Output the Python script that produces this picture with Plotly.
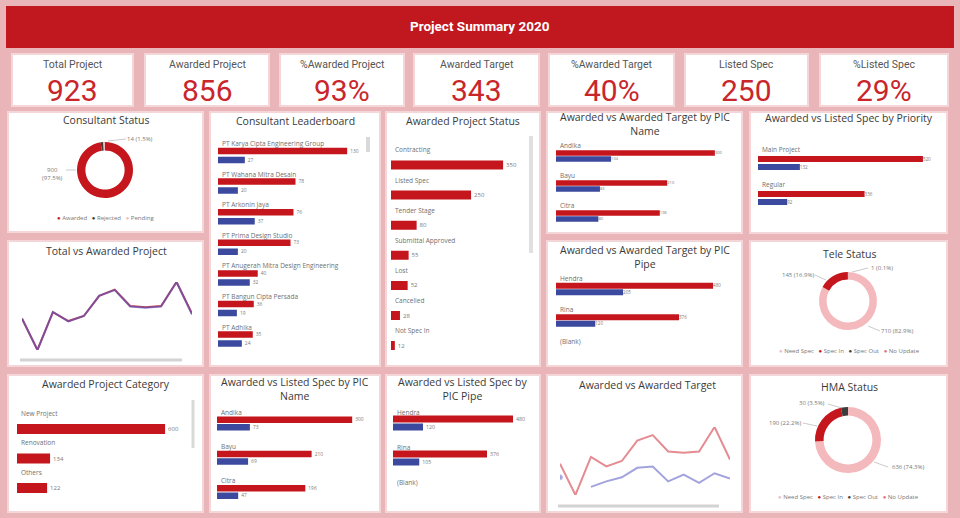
import plotly.graph_objects as go

W, H = 960, 518

# ---------------- data ----------------
kpi_titles = ["Total Project", "Awarded Project", "%Awarded Project", "Awarded Target",
              "%Awarded Target", "Listed Spec", "%Listed Spec"]
kpi_values = ["923", "856", "93%", "343", "40%", "250", "29%"]

months = ["Jan", "Feb", "Mar", "Apr", "May", "Jun", "Jul", "Aug", "Sep", "Oct", "Nov", "Dec"]
total_project = [70, 45, 75, 68, 72, 88, 93, 80, 79, 80, 99, 74]
awarded_project = [65, 42, 70, 63, 67, 82, 86, 74, 73, 74, 92, 68]
awarded_target = [55, None, 48, 52, 55, 62, 63, 52, 57, 51, 58, 54]

consultant_status_labels = ["Awarded", "Rejected", "Pending"]
consultant_status_values = [900, 14, 9]

leader_names = ["PT Karya Cipta Engineering Group", "PT Wahana Mitra Desain", "PT Arkonin Jaya",
                "PT Prima Design Studio", "PT Anugerah Mitra Design Engineering",
                "PT Bangun Cipta Persada", "PT Adhika"]
leader_awarded = [130, 78, 76, 73, 40, 36, 35]
leader_listed = [27, 20, 37, 20, 32, 19, 24]

status_names = ["Contracting", "Listed Spec", "Tender Stage", "Submittal Approved",
                "Lost", "Cancelled", "Not Spec In"]
status_values = [350, 250, 80, 55, 52, 28, 12]

pic_names = ["Andika", "Bayu", "Citra"]
pic_awarded = [300, 210, 196]
pic_target = [104, 83, 80]
pic_listed = [73, 69, 47]

priority_names = ["Main Project", "Regular"]
priority_awarded = [520, 336]
priority_listed = [132, 92]

pipe_names = ["Hendra", "Rina", "(Blank)"]
pipe_awarded = [480, 376, 0]
pipe_target = [205, 120, 0]
pipe_listed = [120, 105, 0]

category_names = ["New Project", "Renovation", "Others"]
category_values = [600, 134, 122]

spec_labels = ["Need Spec", "Spec In", "Spec Out", "No Update"]
tele_values = [710, 145, 1, 0]
hma_values = [636, 190, 30, 0]

# ---------------- style ----------------
RED = "#c4161c"
BLUE = "#3b4a9e"
PINK_BG = "#eab5b9"
PANEL_LINE = "#f5d6d8"
TXT = "#3a3a3a"
SUB = "#7a7a7a"
FONT = "Open Sans, Noto Sans, sans-serif"
KFONT = "Roboto, Noto Sans, sans-serif"
DONUT3 = ["#c4161c", "#3c3c3c", "#f4b9bc"]
DONUT4 = ["#f4b9bc", "#c4161c", "#3c3c3c", "#e2717a"]


def fx(x):
    return x / W


def fy(y):
    return 1 - y / H


def xdom(a, b):
    return [fx(a), fx(b)]


def ydom(top, bottom):
    return [fy(bottom), fy(top)]


fig = go.Figure()
shapes = []
annotations = []
axes = {}


def rect(x0, y0, x1, y1, fill, line_color=None, lw=0):
    shapes.append(dict(type="rect", xref="paper", yref="paper", x0=fx(x0), x1=fx(x1),
                       y0=fy(y1), y1=fy(y0), fillcolor=fill,
                       line=dict(color=line_color or fill, width=lw), layer="below"))


def hline(x0, y0, x1, y1, color, width):
    shapes.append(dict(type="line", xref="paper", yref="paper", x0=fx(x0), y0=fy(y0),
                       x1=fx(x1), y1=fy(y1), line=dict(color=color, width=width), layer="above"))


def text(s, x, y, size=10.5, color=TXT, family=FONT, xanchor="center"):
    annotations.append(dict(text=s, x=fx(x), y=fy(y), xref="paper", yref="paper",
                            showarrow=False, xanchor=xanchor, yanchor="middle",
                            font=dict(size=size, color=color, family=family)))


def axname(kind, n):
    return f"{kind}axis" if n == 1 else f"{kind}axis{n}"


def axref(kind, n):
    return kind if n == 1 else f"{kind}{n}"


# ---------------- background panels ----------------
rect(6, 6, 954, 48, "#c1171f")
kpi_boxes = [(12, 133), (145, 269), (280, 404), (414, 539), (549, 674), (685, 808), (820, 948)]
for (a, b) in kpi_boxes:
    rect(a, 54, b, 106, "white", PANEL_LINE, 2)

panels = [(8, 112, 203, 232), (8, 241, 203, 366), (8, 375, 203, 512),
          (210, 112, 380, 366), (386, 112, 540, 366),
          (547, 112, 742, 233), (750, 112, 947, 233),
          (547, 241, 742, 366), (750, 241, 947, 366),
          (210, 375, 380, 512), (386, 375, 540, 512),
          (547, 375, 742, 512), (750, 375, 947, 512)]
for p in panels:
    rect(*p, "white", PANEL_LINE, 2)

# ---------------- header and KPIs ----------------
text("<b>Project Summary 2020</b>", 480, 26, size=13.5, color="white", family=KFONT)
for (a, b), t, v in zip(kpi_boxes, kpi_titles, kpi_values):
    cx = (a + b) / 2
    text(t, cx, 65, size=10.5, color="#555555", family=KFONT)
    text(v, cx, 91, size=30, color="#c9262c", family=KFONT)

# ---------------- panel titles ----------------
titles = [
    ("Consultant Status", 106, 120),
    ("Consultant Leaderboard", 295, 121),
    ("Awarded Project Status", 463, 121),
    ("Awarded vs Awarded Target by PIC<br>Name", 645, 124),
    ("Awarded vs Listed Spec by Priority", 849, 118),
    ("Total vs Awarded Project", 106, 251),
    ("Awarded vs Awarded Target by PIC<br>Pipe", 645, 257),
    ("Tele Status", 849, 254),
    ("Awarded Project Category", 106, 384),
    ("Awarded vs Listed Spec by PIC<br>Name", 295, 389),
    ("Awarded vs Listed Spec by<br>PIC Pipe", 463, 389),
    ("Awarded vs Awarded Target", 647, 385),
    ("HMA Status", 849, 387),
]
for t, x, y in titles:
    text(t, x, y, size=10.5, color=TXT)


# ---------------- bar panels ----------------
def bar_panel(n, cats, series, x_px, first_center, band, thick, sep, xmax, label_shift):
    k = len(series)
    w = thick / band
    for j, (vals, color) in enumerate(series):
        c = (j - (k - 1) / 2) * sep / band
        fig.add_trace(go.Bar(
            x=vals, y=cats, orientation="h", xaxis=axref("x", n), yaxis=axref("y", n),
            width=w, offset=c - w / 2, marker=dict(color=color, line=dict(width=0)),
            text=[str(v) if v else "" for v in vals], textposition="outside",
            textfont=dict(size=6, color=SUB, family=FONT), cliponaxis=False,
            hoverinfo="skip", showlegend=False))
    ncat = len(cats)
    top = first_center - band / 2
    bottom = top + band * ncat
    axes[axname("x", n)] = dict(domain=xdom(*x_px), range=[0, xmax], anchor=axref("y", n),
                                visible=False, fixedrange=True)
    axes[axname("y", n)] = dict(domain=ydom(top, bottom), range=[ncat - 0.5, -0.5],
                                type="category", anchor=axref("x", n), visible=False,
                                fixedrange=True)
    for cname in cats:
        annotations.append(dict(text=cname, x=0, y=cname, xref=axref("x", n), yref=axref("y", n),
                                xanchor="left", yanchor="middle", yshift=label_shift, xshift=2,
                                showarrow=False,
                                font=dict(size=6.5, color="#707070", family=FONT)))


bar_panel(1, leader_names, [(leader_awarded, RED), (leader_listed, BLUE)],
          (218, 372), 155.5, 30.6, 6.5, 9, 155, 12)
bar_panel(2, status_names, [(status_values, RED)], (391, 530), 165, 30.1, 9, 0, 434, 15)
bar_panel(3, pic_names, [(pic_awarded, RED), (pic_target, BLUE)],
          (556, 735), 156, 30, 5.5, 6, 338, 11)
bar_panel(4, priority_names, [(priority_awarded, RED), (priority_listed, BLUE)],
          (758, 935), 163, 35, 6, 8, 558, 13)
bar_panel(5, pipe_names, [(pipe_awarded, RED), (pipe_target, BLUE)],
          (556, 735), 289, 31.5, 6, 6.5, 547, 11)
bar_panel(6, pic_names, [(pic_awarded, RED), (pic_listed, BLUE)],
          (217, 372), 423.5, 34.3, 6.5, 7.5, 344, 11.5)
bar_panel(7, pipe_names, [(pipe_awarded, RED), (pipe_listed, BLUE)],
          (393, 535), 423, 35, 7, 8, 568, 11)
bar_panel(8, category_names, [(category_values, RED)], (17, 190), 429, 29.5, 10, 0, 701, 16)

# ---------------- line panels ----------------
fig.add_trace(go.Scatter(x=months, y=total_project, xaxis="x9", yaxis="y9", mode="lines",
                         line=dict(color="#c0474f", width=2), hoverinfo="skip", showlegend=False))
fig.add_trace(go.Scatter(x=months, y=awarded_project, xaxis="x9", yaxis="y10", mode="lines",
                         line=dict(color="#5b4fc4", width=2), opacity=0.6,
                         hoverinfo="skip", showlegend=False))
axes["xaxis9"] = dict(domain=xdom(22, 192), range=[0, 11], type="category", anchor="y9",
                      visible=False, fixedrange=True)
axes["yaxis9"] = dict(domain=ydom(282, 350), range=[45, 99], anchor="x9", visible=False,
                      fixedrange=True)
axes["yaxis10"] = dict(overlaying="y9", range=[42, 92], anchor="x9", visible=False,
                       fixedrange=True)

fig.add_trace(go.Scatter(x=months, y=awarded_project, xaxis="x10", yaxis="y11", mode="lines",
                         line=dict(color="#e58c92", width=2), hoverinfo="skip", showlegend=False))
fig.add_trace(go.Scatter(x=months, y=awarded_target, xaxis="x10", yaxis="y11", mode="lines+markers",
                         line=dict(color="#a3a3dd", width=2),
                         marker=dict(color="#7d7dd0", size=[5] + [0] * 11),
                         hoverinfo="skip", showlegend=False))
axes["xaxis10"] = dict(domain=xdom(560, 730), range=[0, 11], type="category", anchor="y11",
                       visible=False, fixedrange=True)
axes["yaxis11"] = dict(domain=ydom(427, 495), range=[42, 92], anchor="x10", visible=False,
                       fixedrange=True)

hline(20, 360, 182, 360, "#d3d3d3", 3)
hline(558, 506, 719, 506, "#d3d3d3", 3)
# scrollbars
hline(193, 400, 193, 448, "#d9d9d9", 3)
hline(368, 137, 368, 152, "#d9d9d9", 4)
hline(531, 136, 531, 253, "#e0e0e0", 4)


# ---------------- donuts ----------------
def donut(labels, values, colors, cx, cy, r, hole):
    fig.add_trace(go.Pie(labels=labels, values=values, hole=hole, sort=False,
                         direction="clockwise", rotation=0,
                         marker=dict(colors=colors, line=dict(width=0)),
                         domain=dict(x=xdom(cx - r, cx + r), y=ydom(cy - r, cy + r)),
                         textinfo="none", hoverinfo="skip", showlegend=False))


def pct_label(values, i, br=False):
    tot = sum(values)
    sep = "<br>" if br else " "
    return f"{values[i]}{sep}({values[i] / tot * 100:.1f}%)"


def legend(labels, colors, cx, y):
    parts = [f"<span style='color:{c}'>●</span> {l}" for l, c in zip(labels, colors)]
    text("   ".join(parts), cx, y, size=6, color="#777777")


donut(consultant_status_labels, consultant_status_values, DONUT3, 105, 170, 28, 0.7)
text(pct_label(consultant_status_values, 0, br=True), 52, 174, size=6, color=SUB)
text(pct_label(consultant_status_values, 1), 140, 139, size=6, color=SUB)
legend(consultant_status_labels, DONUT3, 105, 218)
hline(66, 170, 76, 170, "#bdbdbd", 0.8)
hline(108, 141, 126, 139, "#bdbdbd", 0.8)

donut(spec_labels, tele_values, DONUT4, 848, 301, 29, 0.74)
text(pct_label(tele_values, 1), 798, 275, size=6, color=SUB)
text(pct_label(tele_values, 2), 882, 268, size=6, color=SUB)
text(pct_label(tele_values, 0), 897, 331, size=6, color=SUB)
legend(spec_labels, DONUT4, 849, 351)
hline(815, 275, 826, 280, "#bdbdbd", 0.8)
hline(852, 272, 868, 268, "#bdbdbd", 0.8)
hline(868, 326, 880, 331, "#bdbdbd", 0.8)

donut(spec_labels, hma_values, DONUT4, 848, 440, 33, 0.74)
text(pct_label(hma_values, 2), 812, 403, size=6, color=SUB)
text(pct_label(hma_values, 1), 785, 423, size=6, color=SUB)
text(pct_label(hma_values, 0), 908, 467, size=6, color=SUB)
legend(spec_labels, DONUT4, 848, 497)
hline(828, 404, 842, 408, "#bdbdbd", 0.8)
hline(803, 423, 817, 426, "#bdbdbd", 0.8)
hline(874, 462, 888, 467, "#bdbdbd", 0.8)

fig.update_layout(
    width=W, height=H, margin=dict(l=0, r=0, t=0, b=0),
    paper_bgcolor=PINK_BG, plot_bgcolor="rgba(0,0,0,0)",
    barmode="overlay", showlegend=False,
    shapes=shapes, annotations=annotations,
    font=dict(family=FONT),
    **axes,
)

fig.write_html("out.html", config={"displayModeBar": False},
               post_script="document.body.style.margin='0';document.body.style.padding='0';")
